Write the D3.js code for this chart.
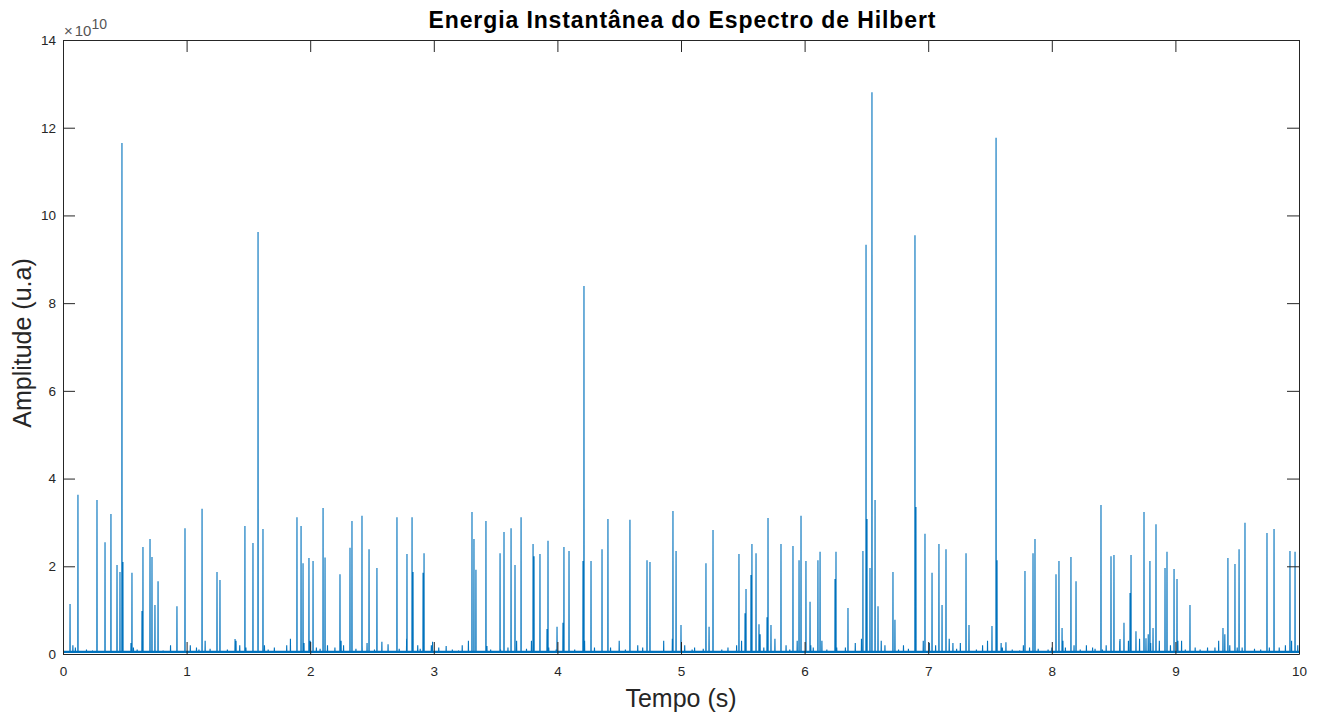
<!DOCTYPE html>
<html>
<head>
<meta charset="utf-8">
<script src="https://cdn.jsdelivr.net/npm/d3@7"></script>
<style>
  html, body { margin: 0; padding: 0; background: #fff; }
  svg { display: block; }
  text { font-family: "Liberation Sans", Arial, Helvetica, sans-serif; }
</style>
</head>
<body>
<div id="chart"></div>
<script>
// ---- Data (amplitudes in units of 1e10) ----
const title = "Energia Instantânea do Espectro de Hilbert";
const xLabel = "Tempo (s)";
const yLabel = "Amplitude (u.a)";
const xTicks = [0, 1, 2, 3, 4, 5, 6, 7, 8, 9, 10];
const yTicks = [0, 2, 4, 6, 8, 10, 12, 14];
const exponentLabel = "10";
const baselineLevel = 0.05;

// major spikes: time (s) and peak amplitude (x1e10)
const spikeTimes = [
  0.057, 0.121, 0.275, 0.340, 0.388, 0.437, 0.461, 0.477, 0.485, 0.558,
  0.639, 0.647, 0.704, 0.720, 0.744, 0.769, 0.922, 0.987, 1.125, 1.246,
  1.270, 1.392, 1.472, 1.537, 1.578, 1.618, 1.893, 1.926, 1.942, 1.990,
  2.023, 2.104, 2.120, 2.241, 2.322, 2.338, 2.419, 2.476, 2.540, 2.702,
  2.783, 2.824, 2.832, 2.913, 2.921, 3.309, 3.325, 3.341, 3.422, 3.536,
  3.568, 3.625, 3.657, 3.706, 3.803, 3.811, 3.859, 3.916, 3.924, 3.997,
  4.045, 4.053, 4.094, 4.207, 4.215, 4.272, 4.361, 4.409, 4.587, 4.725,
  4.749, 4.935, 4.960, 5.000, 5.202, 5.227, 5.259, 5.469, 5.518, 5.526,
  5.566, 5.574, 5.607, 5.631, 5.696, 5.704, 5.728, 5.809, 5.906, 5.955,
  5.971, 6.011, 6.044, 6.108, 6.125, 6.246, 6.254, 6.351, 6.472, 6.497,
  6.505, 6.529, 6.545, 6.570, 6.594, 6.715, 6.731, 6.893, 6.901, 6.974,
  7.031, 7.087, 7.112, 7.144, 7.306, 7.330, 7.516, 7.549, 7.557, 7.629,
  7.783, 7.848, 7.864, 8.034, 8.058, 8.083, 8.155, 8.196, 8.398, 8.479,
  8.503, 8.552, 8.584, 8.633, 8.641, 8.681, 8.746, 8.762, 8.794, 8.819,
  8.843, 8.916, 8.932, 8.989, 9.013, 9.118, 9.385, 9.425, 9.482, 9.515,
  9.563, 9.741, 9.798, 9.927, 9.968
];
const spikeValues = [
  1.14, 3.63, 3.51, 2.55, 3.19, 2.03, 1.87, 11.65, 2.10, 1.85,
  0.98, 2.44, 2.62, 2.21, 1.12, 1.66, 1.09, 2.87, 3.31, 1.87,
  1.69, 0.34, 2.92, 2.53, 9.62, 2.85, 3.12, 2.92, 2.07, 2.19,
  2.12, 3.33, 2.20, 1.82, 2.42, 3.03, 3.15, 2.39, 1.96, 3.12,
  2.28, 3.12, 1.87, 1.85, 2.30, 3.24, 2.62, 1.92, 3.03, 2.30,
  2.78, 2.87, 2.03, 3.12, 2.51, 2.23, 2.28, 0.57, 2.58, 0.62,
  0.71, 2.44, 2.35, 2.12, 8.39, 2.12, 2.39, 3.08, 3.06, 2.14,
  2.10, 3.26, 2.35, 0.66, 2.07, 0.62, 2.83, 2.28, 0.93, 1.48,
  1.80, 2.51, 2.30, 0.68, 0.84, 3.10, 0.66, 2.51, 2.46, 2.14,
  3.15, 2.12, 1.19, 2.14, 2.33, 1.71, 2.33, 1.05, 2.35, 9.33,
  3.08, 1.96, 12.81, 3.51, 1.09, 1.87, 0.78, 9.55, 3.35, 2.74,
  1.85, 2.51, 1.12, 2.39, 2.30, 0.66, 0.64, 11.77, 2.14, 0.27,
  1.89, 2.30, 2.62, 1.82, 2.12, 0.59, 2.21, 1.66, 3.40, 2.23,
  2.26, 0.34, 0.71, 1.39, 2.26, 0.52, 3.24, 0.36, 2.12, 0.59,
  2.96, 1.96, 2.33, 1.94, 1.71, 1.12, 0.59, 2.19, 2.05, 2.39,
  2.99, 2.76, 2.85, 2.35, 2.33
];

// small bumps near the baseline
const bumpTimes = [
  0.08, 0.10, 0.19, 0.24, 0.55, 0.57, 0.60, 0.81, 0.87, 1.03,
  1.08, 1.10, 1.15, 1.19, 1.33, 1.40, 1.43, 1.48, 1.63, 1.66,
  1.71, 1.81, 1.84, 1.95, 2.00, 2.05, 2.08, 2.14, 2.20, 2.25,
  2.27, 2.37, 2.42, 2.46, 2.52, 2.58, 2.63, 2.72, 2.78, 2.87,
  2.89, 2.98, 2.99, 3.04, 3.10, 3.15, 3.20, 3.23, 3.28, 3.43,
  3.46, 3.54, 3.60, 3.67, 3.75, 3.79, 3.93, 3.99, 4.14, 4.22,
  4.30, 4.43, 4.50, 4.55, 4.65, 4.69, 4.86, 4.93, 5.03, 5.09,
  5.11, 5.18, 5.33, 5.38, 5.45, 5.49, 5.64, 5.67, 5.76, 5.85,
  5.88, 5.94, 6.05, 6.07, 6.14, 6.18, 6.26, 6.33, 6.41, 6.46,
  6.62, 6.65, 6.76, 6.80, 6.84, 6.96, 7.01, 7.06, 7.17, 7.20,
  7.23, 7.26, 7.39, 7.44, 7.48, 7.59, 7.60, 7.68, 7.74, 7.77,
  7.82, 7.89, 7.97, 8.00, 8.09, 8.11, 8.18, 8.23, 8.28, 8.33,
  8.35, 8.41, 8.44, 8.55, 8.62, 8.71, 8.78, 8.80, 8.87, 8.96,
  9.02, 9.05, 9.08, 9.16, 9.20, 9.26, 9.32, 9.35, 9.40, 9.44,
  9.50, 9.54, 9.64, 9.69, 9.76, 9.84, 9.89, 9.94, 9.99
];
const bumpValues = [
  0.20, 0.15, 0.10, 0.06, 0.25, 0.15, 0.10, 0.08, 0.20, 0.20,
  0.15, 0.10, 0.30, 0.12, 0.10, 0.30, 0.20, 0.15, 0.20, 0.10,
  0.15, 0.20, 0.35, 0.25, 0.30, 0.15, 0.12, 0.20, 0.15, 0.30,
  0.20, 0.12, 0.20, 0.25, 0.10, 0.28, 0.22, 0.12, 0.35, 0.20,
  0.12, 0.20, 0.28, 0.15, 0.18, 0.10, 0.08, 0.20, 0.30, 0.18,
  0.10, 0.10, 0.15, 0.30, 0.12, 0.30, 0.15, 0.10, 0.10, 0.30,
  0.15, 0.15, 0.30, 0.10, 0.20, 0.15, 0.30, 0.35, 0.20, 0.10,
  0.15, 0.12, 0.10, 0.15, 0.20, 0.30, 0.45, 0.15, 0.35, 0.20,
  0.10, 0.30, 0.20, 0.15, 0.30, 0.10, 0.15, 0.15, 0.25, 0.35,
  0.30, 0.20, 0.10, 0.20, 0.12, 0.30, 0.25, 0.20, 0.35, 0.25,
  0.12, 0.25, 0.10, 0.20, 0.30, 0.25, 0.15, 0.10, 0.08, 0.20,
  0.15, 0.12, 0.10, 0.15, 0.30, 0.15, 0.20, 0.10, 0.20, 0.15,
  0.12, 0.10, 0.20, 0.30, 0.30, 0.35, 0.45, 0.25, 0.30, 0.20,
  0.30, 0.30, 0.10, 0.15, 0.10, 0.15, 0.15, 0.30, 0.45, 0.20,
  0.15, 0.15, 0.12, 0.10, 0.15, 0.15, 0.20, 0.30, 0.20
];

// ---- Layout ----
const W = 1322, H = 714;
const margin = { left: 63, right: 23, top: 40, bottom: 60 };
const axisColor = "#262626";
const lineColor = "#0072BD";

const svg = d3.select("#chart").append("svg")
  .attr("width", W).attr("height", H);

const x = d3.scaleLinear().domain([0, 10]).range([margin.left, W - margin.right]);
const y = d3.scaleLinear().domain([0, 14]).range([H - margin.bottom, margin.top]);

// Build signal events from data
const events = [];
spikeTimes.forEach((t, i) => events.push({ t, v: spikeValues[i] }));
bumpTimes.forEach((t, i) => events.push({ t, v: bumpValues[i] }));
events.sort((a, b) => a.t - b.t);
const dt = 0.0012;
const pts = [{ t: 0, v: baselineLevel }];
events.forEach(e => {
  pts.push({ t: e.t - dt, v: baselineLevel });
  pts.push({ t: e.t, v: e.v });
  pts.push({ t: e.t + dt, v: baselineLevel });
});
pts.push({ t: 10, v: baselineLevel });

const lineGen = d3.line().x(p => x(p.t)).y(p => y(p.v));

svg.append("path")
  .datum(pts)
  .attr("d", lineGen)
  .attr("fill", "none")
  .attr("stroke", lineColor)
  .attr("stroke-width", 1.1);

// baseline thickness
svg.append("line")
  .attr("x1", x(0)).attr("x2", x(10))
  .attr("y1", y(baselineLevel)).attr("y2", y(baselineLevel))
  .attr("stroke", lineColor).attr("stroke-width", 2.2);

// ---- Axes (box style, ticks inward) ----
const tickLen = 12;
const fontTick = 13.5;

const gBottom = svg.append("g").attr("transform", `translate(0,${y(0)})`)
  .call(d3.axisBottom(x).tickValues(xTicks).tickSizeInner(-tickLen).tickSizeOuter(0).tickPadding(12).tickFormat(d3.format("d")));
const gTop = svg.append("g").attr("transform", `translate(0,${y(14)})`)
  .call(d3.axisTop(x).tickValues(xTicks).tickSizeInner(-tickLen).tickSizeOuter(0).tickFormat(""));
const gLeft = svg.append("g").attr("transform", `translate(${x(0)},0)`)
  .call(d3.axisLeft(y).tickValues(yTicks).tickSizeInner(-tickLen).tickSizeOuter(0).tickPadding(7).tickFormat(d3.format("d")));
const gRight = svg.append("g").attr("transform", `translate(${x(10)},0)`)
  .call(d3.axisRight(y).tickValues(yTicks).tickSizeInner(-tickLen).tickSizeOuter(0).tickFormat(""));

[gBottom, gTop, gLeft, gRight].forEach(g => {
  g.select(".domain").attr("stroke", axisColor).attr("stroke-width", 1);
  g.selectAll(".tick line").attr("stroke", axisColor).attr("stroke-width", 1);
  g.selectAll(".tick text").attr("fill", axisColor)
    .style("font-size", fontTick + "px")
    .style("font-family", "'Liberation Sans', Arial, sans-serif");
});

// exponent label
const expText = svg.append("text")
  .attr("x", x(0) + 1).attr("y", 36)
  .attr("fill", "#555555")
  .style("font-size", "15px");
expText.append("tspan").text("×");
expText.append("tspan").attr("dx", 2).text("10");
expText.append("tspan").attr("dy", -7).style("font-size", "14px").text(exponentLabel);

// title
svg.append("text")
  .attr("x", 682).attr("y", 28)
  .attr("text-anchor", "middle")
  .attr("fill", "#000")
  .attr("textLength", 507)
  .attr("lengthAdjust", "spacing")
  .style("font-size", "23px").style("font-weight", "bold")
  .text(title);

// axis labels
svg.append("text")
  .attr("x", (x(0) + x(10)) / 2).attr("y", 707)
  .attr("text-anchor", "middle")
  .attr("fill", axisColor)
  .style("font-size", "25px")
  .text(xLabel);

svg.append("text")
  .attr("transform", `translate(31,343) rotate(-90)`)
  .attr("text-anchor", "middle")
  .attr("fill", axisColor)
  .style("font-size", "25px")
  .text(yLabel);
</script>
</body>
</html>
